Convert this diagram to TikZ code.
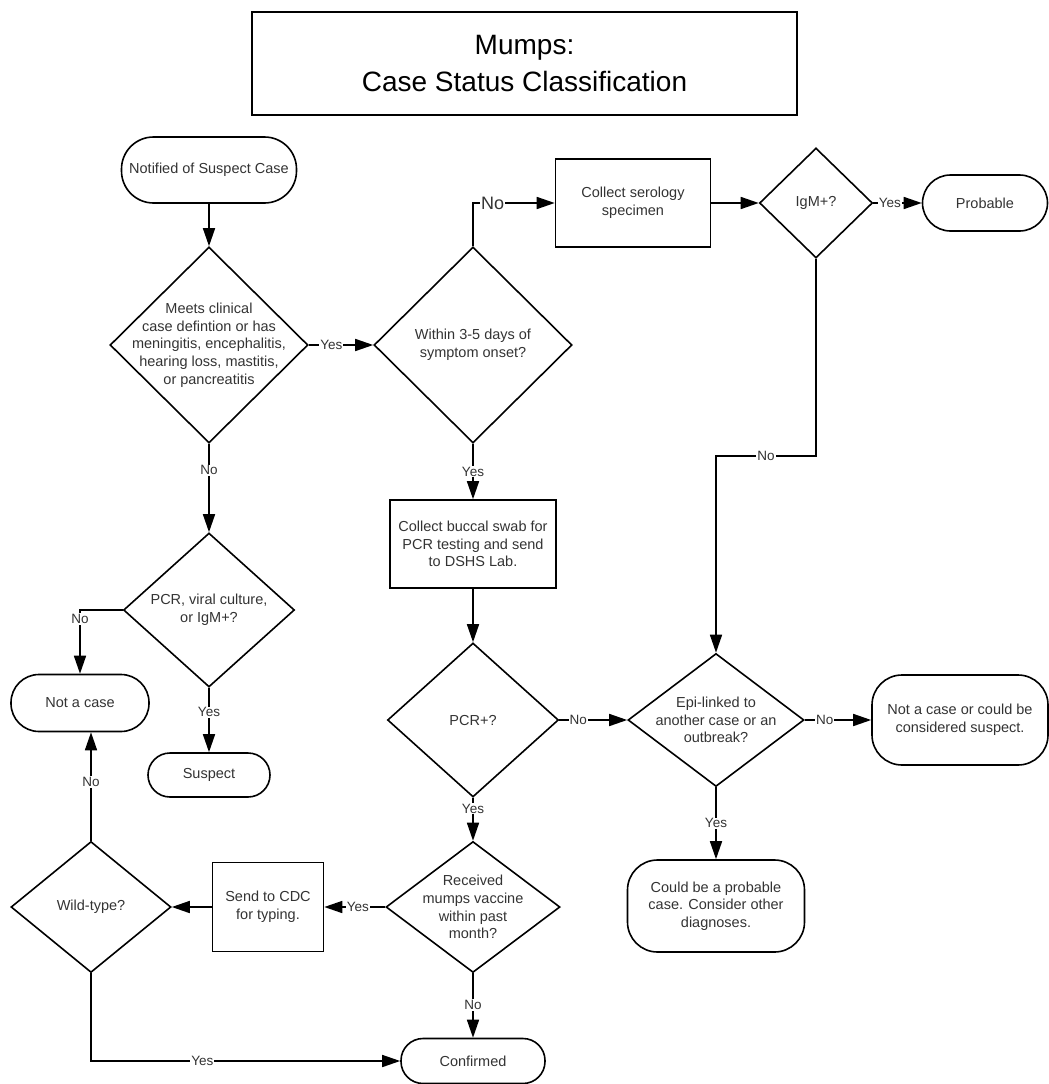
\documentclass[tikz,border=0pt]{standalone}
\usepackage{fontspec}
\setmainfont{Liberation Sans}
\usetikzlibrary{shapes.geometric,arrows.meta,positioning}
\definecolor{inkgrey}{HTML}{333333}

\begin{document}
\begin{tikzpicture}[x=1pt,y=-1pt]
\tikzstyle{terminal}=[rectangle, rounded corners=22pt, draw=black, line width=1.6pt, align=center, text=inkgrey, font=\fontsize{14.5}{17.7}\selectfont]
\tikzstyle{process}=[rectangle, draw=black, line width=1.6pt, align=center, text=inkgrey, font=\fontsize{14.5}{17.7}\selectfont]
\tikzstyle{decision}=[diamond, draw=black, line width=1.6pt, inner sep=0pt]
\tikzstyle{dtext}=[align=center, text=inkgrey, font=\fontsize{14.5}{17.7}\selectfont]
\tikzstyle{connect}=[-{Triangle[length=18pt,width=12pt]}, line width=1.6pt]
\tikzstyle{lbl}=[fill=white, inner sep=1pt, text=inkgrey, font=\fontsize{13.5}{15}\selectfont]
  \useasboundingbox (0,0) rectangle (1049,1084);
  \node[process, minimum width=545pt, minimum height=103pt, text=black, font=\fontsize{28}{37}\selectfont] (title) at (524.5,63.5) {Mumps:\\Case Status Classification};
  % left column
  \node[terminal, rounded corners=32pt, minimum width=175pt, minimum height=66pt] (start) at (209,170) {Notified of Suspect Case};
  \node[decision, minimum width=198pt, minimum height=196pt, label={[dtext]center:{Meets clinical\\case defintion or has\\meningitis, encephalitis,\\hearing loss, mastitis,\\or pancreatitis}}] (meets) at (209,345) {};
  \node[decision, minimum width=171pt, minimum height=154pt, label={[dtext]center:{PCR, viral culture,\\or IgM+?}}] (viral) at (209,610) {};
  \node[terminal, rounded corners=28pt, minimum width=138pt, minimum height=57pt] (notcase) at (80,703) {Not a case};
  \node[terminal, minimum width=122pt, minimum height=44pt] (suspect) at (209,775) {Suspect};
  % middle column
  \node[decision, minimum width=198pt, minimum height=196pt, label={[dtext]center:{Within 3-5 days of\\symptom onset?}}] (within) at (473,345) {};
  \node[process, minimum width=166pt, minimum height=88pt] (buccal) at (473,544) {Collect buccal swab for\\PCR testing and send\\to DSHS Lab.};
  \node[decision, minimum width=171pt, minimum height=154pt, label={[dtext]center:{PCR+?}}] (pcr) at (473,720) {};
  \node[decision, minimum width=174pt, minimum height=131pt, label={[dtext]center:{Received\\mumps vaccine\\within past\\month?}}] (received) at (473,907) {};
  \node[terminal, minimum width=144pt, minimum height=45pt] (confirmed) at (473,1061) {Confirmed};
  \node[process, minimum width=111pt, minimum height=89pt] (cdc) at (268,907) {Send to CDC\\for typing.};
  \node[decision, minimum width=160pt, minimum height=131pt, label={[dtext]center:{Wild-type?}}] (wild) at (91,907) {};
  % right side
  \node[process, minimum width=155pt, minimum height=88pt] (serology) at (633,203) {Collect serology\\specimen};
  \node[decision, minimum width=113pt, minimum height=110pt, label={[dtext]center:{IgM+?}}] (igm) at (816,203) {};
  \node[terminal, rounded corners=28pt, minimum width=125pt, minimum height=56pt] (probable) at (985,203) {Probable};
  \node[decision, minimum width=176pt, minimum height=133pt, label={[dtext]center:{Epi-linked to\\another case or an\\outbreak?}}] (epi) at (716,720) {};
  \node[terminal, rounded corners=30pt, minimum width=176pt, minimum height=90pt] (notsusp) at (960,720) {Not a case or could be\\considered suspect.};
  \node[terminal, rounded corners=30pt, minimum width=177pt, minimum height=92pt] (couldbe) at (716,906) {Could be a probable\\case. Consider other\\diagnoses.};
  \coordinate (igmturn) at (816,456);
  \path (start) edge [connect] (meets)
        (meets) edge [connect] node[lbl, pos=.35] {Yes} (within)
        (meets) edge [connect] node[lbl, pos=.3] {No} (viral)
        (viral) edge [connect] node[lbl, pos=.38] {Yes} (suspect)
        (within) edge [connect] node[lbl, pos=.5] {Yes} (buccal)
        (buccal) edge [connect] (pcr)
        (pcr) edge [connect] node[lbl, pos=.28] {No} (epi)
        (pcr) edge [connect] node[lbl, pos=.25] {Yes} (received)
        (received) edge [connect] node[lbl, pos=.45] {Yes} (cdc)
        (cdc) edge [connect] (wild)
        (received) edge [connect] node[lbl, pos=.49] {No} (confirmed)
        (serology) edge [connect] (igm)
        (igm) edge [connect] node[lbl, pos=.34] {Yes} (probable)
        (epi) edge [connect] node[lbl, pos=.3] {No} (notsusp)
        (epi) edge [connect] node[lbl, pos=.5] {Yes} (couldbe);
  \draw[connect] (within.north) |- node[lbl, pos=.62, font=\fontsize{18}{20}\selectfont] {No} (serology.west);
  \draw[connect] (igm.south) -- (igmturn) -| node[lbl, pos=.25] {No} (epi.north);
  \draw[connect] (viral.west) -| node[lbl, pos=.57] {No} (notcase.north);
  \draw[connect] (wild.north) -- node[lbl, pos=.54] {No} (wild.north |- notcase.south);
  \draw[connect] (wild.south) |- node[lbl, pos=.68] {Yes} (confirmed.west);
\end{tikzpicture}
\end{document}
